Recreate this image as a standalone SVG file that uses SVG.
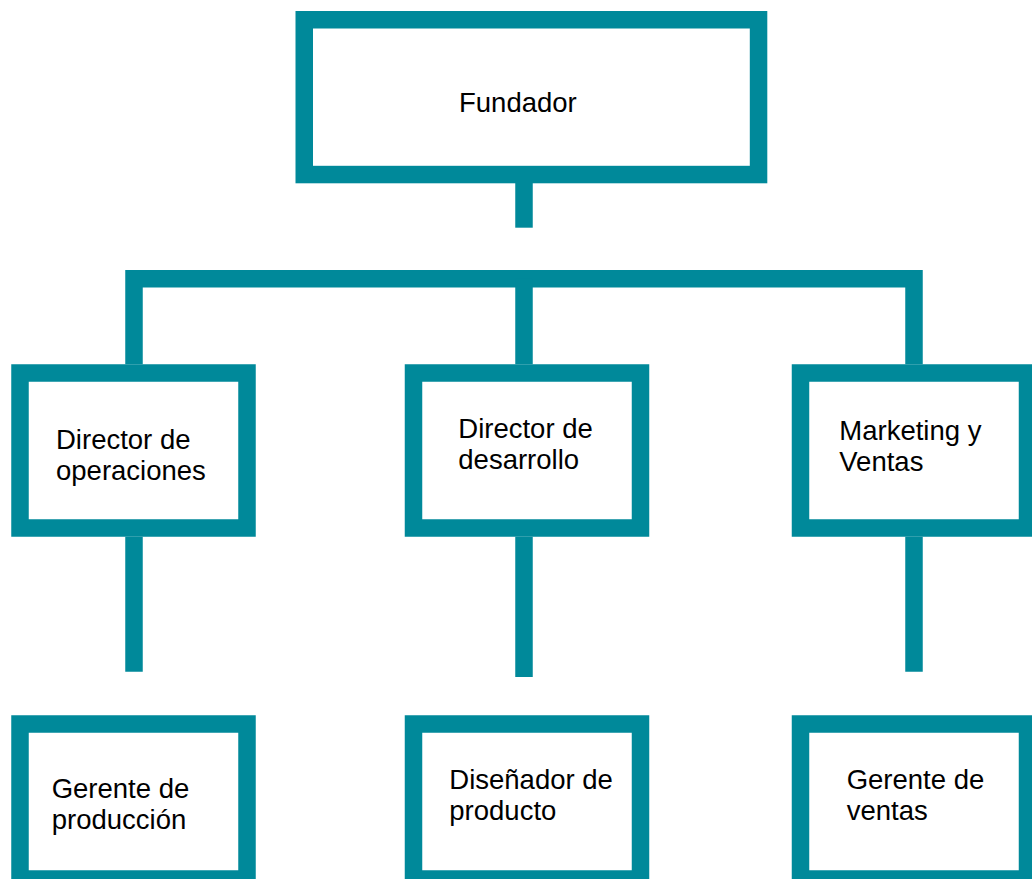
<svg xmlns="http://www.w3.org/2000/svg" width="1032" height="879" viewBox="0 0 1032 879">
<style>
.box{fill:#ffffff;stroke:#00899A;stroke-width:17.5}
.con{fill:none;stroke:#00899A;stroke-width:17.5;stroke-linecap:butt;stroke-linejoin:miter}
.lbl{font-family:"Liberation Sans",Arial,sans-serif;font-size:27.5px;fill:#000000}
</style>
<rect width="1032" height="879" fill="#ffffff"/>
<g id="connectors">
<path class="con" d="M524,183 V227.7"/>
<path class="con" d="M134,364.3 V278.7 H914 V364.3"/>
<path class="con" d="M524,278.7 V364.3"/>
<path class="con" d="M134,536.7 V671.7"/>
<path class="con" d="M524,536.7 V677"/>
<path class="con" d="M914,536.7 V671.7"/>
</g>
<g id="fundador">
<rect class="box" x="304.25" y="19.75" width="454.3" height="154.8"/>
<text class="lbl" x="459" y="111.7">Fundador</text>
</g>
<g id="director-operaciones">
<rect class="box" x="20" y="373" width="227" height="155"/>
<text class="lbl" x="56" y="448.5">Director de</text>
<text class="lbl" x="56" y="479.5">operaciones</text>
</g>
<g id="director-desarrollo">
<rect class="box" x="413.5" y="373" width="227" height="155"/>
<text class="lbl" x="458.3" y="437.7">Director de</text>
<text class="lbl" x="458.3" y="468.7">desarrollo</text>
</g>
<g id="marketing-ventas">
<rect class="box" x="800.5" y="373" width="227" height="155"/>
<text class="lbl" x="839.3" y="440">Marketing y</text>
<text class="lbl" x="839.3" y="471">Ventas</text>
</g>
<g id="gerente-produccion">
<rect class="box" x="20" y="724" width="227" height="155"/>
<text class="lbl" x="51.7" y="797.7">Gerente de</text>
<text class="lbl" x="51.7" y="828.7">producción</text>
</g>
<g id="disenador-producto">
<rect class="box" x="413.5" y="724" width="227" height="155"/>
<text class="lbl" x="449.3" y="789.3">Diseñador de</text>
<text class="lbl" x="449.3" y="820.3">producto</text>
</g>
<g id="gerente-ventas">
<rect class="box" x="800.5" y="724" width="227" height="155"/>
<text class="lbl" x="846.7" y="789.3">Gerente de</text>
<text class="lbl" x="846.7" y="820.3">ventas</text>
</g>
</svg>
